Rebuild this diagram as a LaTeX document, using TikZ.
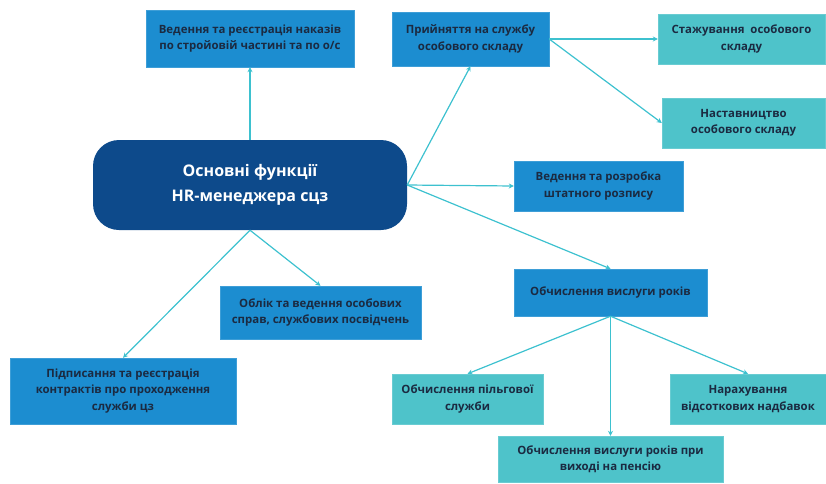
\documentclass[tikz,border=0pt]{standalone}
\usepackage{fontspec}
\setmainfont{Open Sans}
\usetikzlibrary{arrows.meta,positioning}
\definecolor{navy}{HTML}{0D4A8B}
\definecolor{azure}{HTML}{1C8DD0}
\definecolor{aqua}{HTML}{4EC3CA}
\definecolor{line}{HTML}{3DC1CF}
\definecolor{ink}{HTML}{1B2A41}

\begin{document}
\begin{tikzpicture}[x=1pt,y=-1pt,
 fn/.style={draw=azure!85!white,fill=azure,align=center,text=ink,inner sep=2pt,
 font=\fontsize{11.4}{16.5}\selectfont\bfseries},
 sub/.style={fn,draw=aqua!85!white,fill=aqua},
 core/.style={fill=navy,rounded corners=26pt,align=center,text=white,
 minimum width=314pt,minimum height=90pt,font=\fontsize{16}{25}\selectfont\bfseries},
 a/.style={-{Stealth[length=5pt,width=5pt]},line width=1.2pt,draw=line}]
 \useasboundingbox (0,0) rectangle (826,483);
 \node[core] (hr) at (250,185) {Основні функції\\HR-менеджера сцз};
 \node[fn,minimum width=208pt,minimum height=57pt] (nak) at (250,38.5)
  {Ведення та реєстрація наказів\\по стройовій частині та по о/с};
 \node[fn,minimum width=157pt,minimum height=54pt] (pry) at (470.5,39)
  {Прийняття на службу\\особового складу};
 \node[sub,minimum width=167pt,minimum height=50pt] (stzh) at (741.5,39)
  {Стажування\ \ особового\\складу};
 \node[sub,minimum width=163pt,minimum height=50pt] (nast) at (743.5,123)
  {Наставництво\\особового складу};
 \node[fn,minimum width=169pt,minimum height=50pt] (shr) at (598.5,186)
  {Ведення та розробка\\штатного розпису};
 \node[fn,minimum width=201pt,minimum height=53pt] (obl) at (320.5,312.5)
  {Облік та ведення особових\\справ, службових посвідчень};
 \node[fn,minimum width=226pt,minimum height=66pt] (pidp) at (123,391)
  {Підписання та реєстрація\\контрактів про проходження\\служби цз};
 \node[fn,minimum width=193pt,minimum height=47pt] (vysl) at (610.5,292.5)
  {Обчислення вислуги років};
 \node[sub,minimum width=151pt,minimum height=50pt] (pilg) at (467.5,399)
  {Обчислення пільгової\\служби};
 \node[sub,minimum width=225pt,minimum height=46pt] (pens) at (610.5,459)
  {Обчислення вислуги років при\\виході на пенсію};
 \node[sub,minimum width=156pt,minimum height=50pt] (nadb) at (748,399)
  {Нарахування\\відсоткових надбавок};
 % from the centre
 \draw[a] (hr.north)--(nak.south);
 \draw[a] (hr.east)--(pry.south);
 \draw[a] (hr.east)--(shr.west);
 \draw[a] (hr.east)--(vysl.north);
 \draw[a] (hr.south)--(obl.north);
 \draw[a] (hr.south)--(pidp.north);
 % second level
 \draw[a] (pry.east)--(stzh.west);
 \draw[a] (pry.east)--(nast.west);
 \draw[a] (vysl.south)--(pilg.north);
 \draw[a] (vysl.south)--(pens.north);
 \draw[a] (vysl.south)--(nadb.north);
\end{tikzpicture}
\end{document}
